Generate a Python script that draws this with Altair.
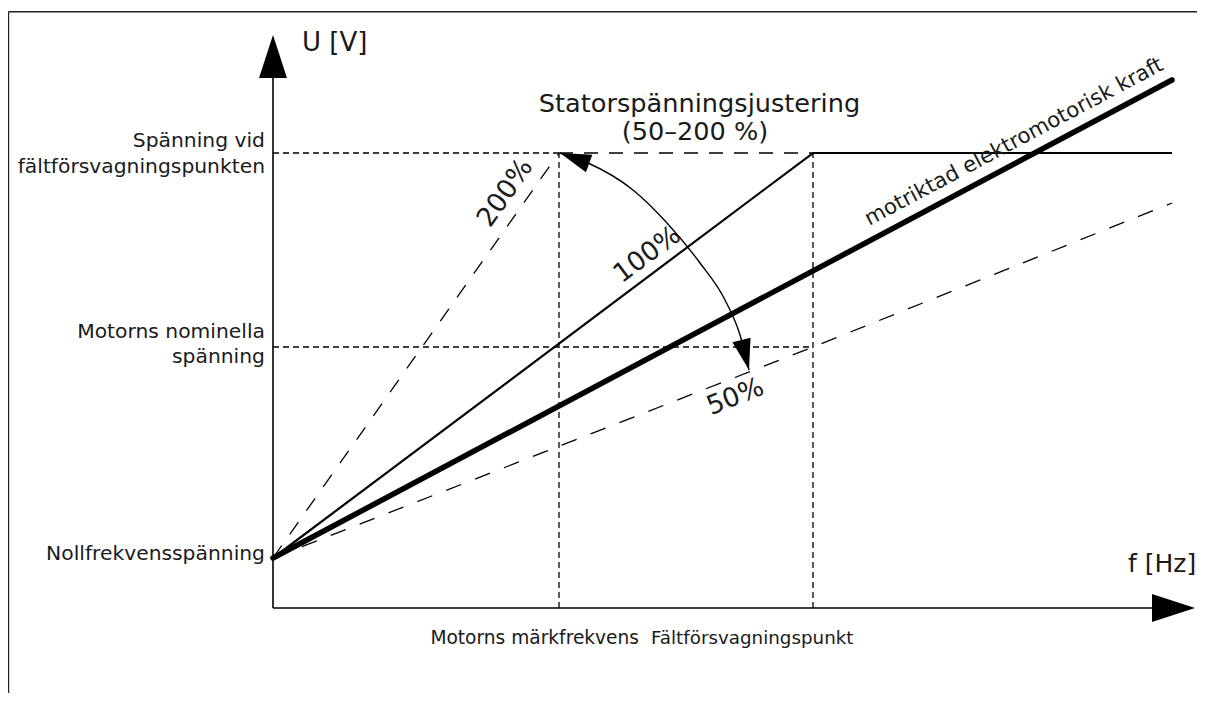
import math
import altair as alt
import pandas as pd

# ---- characteristic values (arbitrary units) ----
F_NOM = 28.6        # motor nominal frequency
F_FWP = 54.0        # field weakening point
F_END = 89.9        # end of drawn curves
X_AXIS_END = 92.2   # tip of f-axis arrow
U_ZERO = 5.0        # zero frequency voltage
U_NOM = 26.1        # motor nominal voltage
U_FWP = 45.5        # voltage at field weakening point
U_EMF_END = 52.8
U_50_END = 40.5
Y_AXIS_END = 57.3   # tip of U-axis arrow

# ---- curves ----
curve_100_f = [0, F_FWP, F_END]
curve_100_u = [U_ZERO, U_FWP, U_FWP]
emf_f = [0, F_END]
emf_u = [U_ZERO, U_EMF_END]
curve_200_f = [0, F_NOM]
curve_200_u = [U_ZERO, U_FWP]
curve_200_flat_f = [F_NOM, F_FWP]
curve_200_flat_u = [U_FWP, U_FWP]
curve_50_f = [0, F_FWP, F_END]
curve_50_u = [U_ZERO, U_NOM, U_50_END]

# adjustment arc
arc_f = [28.7, 31.5, 36.0, 39.4, 42.7, 45.2, 46.7, 47.6]
arc_u = [45.5, 44.5, 41.8, 38.5, 34.5, 30.8, 27.3, 23.8]

# ---- texts ----
y_labels = ["Spänning vid", "fältförsvagningspunkten", "Motorns nominella", "spänning", "Nollfrekvensspänning"]
y_label_u = [46.15, 43.5, 27.0, 24.5, 4.8]
x_labels = ["Motorns märkfrekvens", "Fältförsvagningspunkt"]
title_lines = ["Statorspänningsjustering", "(50–200 %)"]
axis_titles = ["U [V]", "f [Hz]"]
pct_labels = ["200%", "100%", "50%"]
emf_label = "motriktad elektromotorisk kraft"

FONT = "DejaVu Sans"
INK = "#000000"
TXT = "#1a1a1a"

xs = alt.Scale(domain=[0, X_AXIS_END], nice=False, zero=False)
ys = alt.Scale(domain=[0, Y_AXIS_END], nice=False, zero=False)
X = alt.X("x:Q", scale=xs, axis=None)
Y = alt.Y("y:Q", scale=ys, axis=None)


def line_df(fs, us):
    return pd.DataFrame({"x": fs, "y": us, "i": list(range(len(fs)))})


def line_layer(fs, us, **mk):
    return alt.Chart(line_df(fs, us)).mark_line(**mk).encode(x=X, y=Y, order="i:Q")


def slope_angle(f0, u0, f1, u1):
    # both scales are 10 px per unit, so data slope = pixel slope
    return 360 - math.degrees(math.atan2(u1 - u0, f1 - f0))


one = pd.DataFrame({"a": [0]})
# border frame (left and top edges; the rest lies outside the picture)
frame_left = alt.Chart(one).mark_rule(color="#222222", strokeWidth=1.6).encode(
    x=alt.value(-264.6), y=alt.value(-23.3), y2=alt.value(660))
frame_top = alt.Chart(one).mark_rule(color="#222222", strokeWidth=1.6).encode(
    x=alt.value(-264.6), x2=alt.value(924), y=alt.value(-23.3))

# reference (short dashed) lines
ref = pd.DataFrame({
    "x": [0, 0, F_NOM, F_FWP],
    "x2": [F_NOM, F_FWP, F_NOM, F_FWP],
    "y": [U_FWP, U_NOM, 0, 0],
    "y2": [U_FWP, U_NOM, U_FWP, U_FWP],
})
ref_layer = alt.Chart(ref).mark_rule(color=INK, strokeWidth=1.3, strokeDash=[6, 4]).encode(
    x=X, y=Y, x2="x2:Q", y2="y2:Q")

# axes
axes = pd.DataFrame({"x": [0, 0], "x2": [0, X_AXIS_END - 1.5], "y": [0, 0], "y2": [Y_AXIS_END - 1.5, 0]})
axes_layer = alt.Chart(axes).mark_rule(color=INK, strokeWidth=1.6).encode(x=X, y=Y, x2="x2:Q", y2="y2:Q")

ARROW = "M0,0L0.65,2L-0.65,2Z"
heads = pd.DataFrame({"x": [0, X_AXIS_END], "y": [Y_AXIS_END, 0], "a": [0, 90]})
heads_layer = alt.Chart(heads).mark_point(
    shape=ARROW, filled=True, size=1849, opacity=1, color="black", strokeWidth=0
).encode(x=X, y=Y, angle=alt.Angle("a:Q", scale=None))

c200 = line_layer(curve_200_f, curve_200_u, color=INK, strokeWidth=1.3, strokeDash=[15, 14])
c200f = line_layer(curve_200_flat_f, curve_200_flat_u, color=INK, strokeWidth=1.3, strokeDash=[14, 11])
c50 = line_layer(curve_50_f, curve_50_u, color=INK, strokeWidth=1.3, strokeDash=[16, 15])
c100 = line_layer(curve_100_f, curve_100_u, color="black", strokeWidth=2.2, strokeJoin="miter")
cemf = line_layer(emf_f, emf_u, color="black", strokeWidth=5.5, strokeCap="round")

arc = alt.Chart(line_df(arc_f, arc_u)).mark_line(
    color="black", strokeWidth=1.4, interpolate="monotone"
).encode(x=X, y=Y, order="i:Q")
arc_heads = pd.DataFrame({"x": [arc_f[0], arc_f[-1]], "y": [arc_u[0], arc_u[-1]], "a": [290, 166]})
arc_heads_layer = alt.Chart(arc_heads).mark_point(
    shape="M0,0L0.6,2L-0.6,2Z", filled=True, size=961, opacity=1, color="black", strokeWidth=0
).encode(x=X, y=Y, angle=alt.Angle("a:Q", scale=None))

# y labels
ylab = alt.Chart(pd.DataFrame({"x": [-0.8] * len(y_labels), "y": y_label_u, "t": y_labels})).mark_text(
    font=FONT, fontSize=20.3, align="right", baseline="alphabetic", color=TXT
).encode(x=X, y=Y, text="t:N")

# x labels
xl1 = alt.Chart(pd.DataFrame({"x": [36.6], "y": [-3.6], "t": [x_labels[0]]})).mark_text(
    font=FONT, fontSize=18.6, align="right", baseline="alphabetic", color=TXT
).encode(x=X, y=Y, text="t:N")
xl2 = alt.Chart(pd.DataFrame({"x": [37.8], "y": [-3.6], "t": [x_labels[1]]})).mark_text(
    font=FONT, fontSize=18.3, align="left", baseline="alphabetic", color=TXT
).encode(x=X, y=Y, text="t:N")

# title of adjustment
ttl1 = alt.Chart(pd.DataFrame({"x": [42.65], "y": [49.6], "t": [title_lines[0]]})).mark_text(
    font=FONT, fontSize=25.6, align="center", baseline="alphabetic", color=TXT
).encode(x=X, y=Y, text="t:N")
ttl2 = alt.Chart(pd.DataFrame({"x": [42.2], "y": [46.8], "t": [title_lines[1]]})).mark_text(
    font=FONT, fontSize=25.6, align="center", baseline="alphabetic", color=TXT
).encode(x=X, y=Y, text="t:N")

# axis titles
at1 = alt.Chart(pd.DataFrame({"x": [2.9], "y": [55.7], "t": [axis_titles[0]]})).mark_text(
    font=FONT, fontSize=26, align="left", baseline="alphabetic", color=TXT
).encode(x=X, y=Y, text="t:N")
at2 = alt.Chart(pd.DataFrame({"x": [85.5], "y": [3.6], "t": [axis_titles[1]]})).mark_text(
    font=FONT, fontSize=25, align="left", baseline="alphabetic", color=TXT
).encode(x=X, y=Y, text="t:N")


def rot_text(txt, f, u, angle, dy, size, baseline="middle"):
    return alt.Chart(pd.DataFrame({"x": [f], "y": [u], "t": [txt]})).mark_text(
        font=FONT, fontSize=size, align="center", baseline=baseline, angle=angle, dy=dy, color=TXT
    ).encode(x=X, y=Y, text="t:N")


a200 = slope_angle(curve_200_f[0], curve_200_u[0], curve_200_f[1], curve_200_u[1])
a100 = slope_angle(curve_100_f[0], curve_100_u[0], curve_100_f[1], curve_100_u[1])
a50 = slope_angle(curve_50_f[0], curve_50_u[0], curve_50_f[2], curve_50_u[2])
aemf = slope_angle(emf_f[0], emf_u[0], emf_f[1], emf_u[1])

t200 = rot_text(pct_labels[0], 24.94, 40.3, a200, -21, 26.5)
t100 = rot_text(pct_labels[1], 38.5, 33.9, a100, -18, 26.5)
t50 = rot_text(pct_labels[2], 45.5, 22.97, a50, 20, 26.5)
temf = rot_text(emf_label, 75.0, 44.9, aemf, -13, 21.3, baseline="alphabetic")

chart = alt.layer(
    frame_left, frame_top, ref_layer, c200, c200f, c50, c100, cemf, axes_layer, heads_layer,
    arc, arc_heads_layer, ylab, xl1, xl2, ttl1, ttl2, at1, at2, t200, t100, t50, temf
).properties(
    width=922, height=573,
    padding={"left": 265, "top": 27, "right": 4, "bottom": 85},
    autosize=alt.AutoSizeParams(type="none"),
    background="white",
).configure_view(strokeWidth=0)

chart.save("out.html", embed_options={"renderer": "svg", "actions": False})
